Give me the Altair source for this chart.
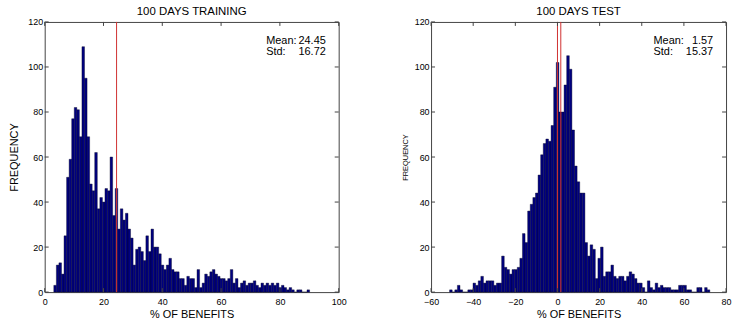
import altair as alt
import pandas as pd

# ---------------- data ----------------
train_title = "100 DAYS TRAINING"
test_title = "100 DAYS TEST"
x_label = "% OF BENEFITS"
y_label = "FREQUENCY"

train_min = 3.1
train_width = 0.87
train_counts = [
    3, 12, 13, 8, 25, 51, 59, 77, 82, 81,
    69, 109, 95, 69, 48, 45, 62, 37, 42, 40,
    46, 45, 60, 34, 46, 28, 37, 32, 35, 28,
    24, 12, 19, 20, 18, 14, 25, 18, 28, 20,
    20, 17, 12, 10, 12, 15, 10, 9, 9, 6,
    6, 3, 7, 6, 6, 2, 10, 2, 4, 8,
    7, 9, 10, 8, 7, 6, 6, 5, 6, 10,
    4, 6, 2, 4, 5, 3, 4, 4, 5, 3,
    2, 4, 3, 4, 3, 4, 3, 4, 2, 3,
    2, 1, 2, 1, 0, 1, 1, 0, 0, 1,
]
train_lines = [24.45]
train_stats = [24.45, 16.72]
train_xticks = [0, 20, 40, 60, 80, 100]

test_min = -51.2
test_width = 1.235
test_counts = [
    1, 0, 1, 3, 1, 0, 0, 1, 1, 4,
    3, 5, 7, 4, 5, 5, 5, 3, 4, 4,
    16, 11, 10, 8, 10, 10, 11, 15, 26, 22,
    36, 39, 42, 44, 52, 61, 66, 68, 67, 74,
    91, 102, 80, 80, 92, 105, 99, 72, 56, 49,
    44, 44, 22, 16, 21, 19, 6, 15, 20, 7,
    9, 9, 12, 7, 6, 7, 7, 5, 7, 9,
    8, 6, 4, 4, 2, 0, 5, 2, 1, 4,
    2, 3, 2, 2, 2, 1, 1, 1, 3, 3,
    3, 1, 1, 0, 0, 2, 2, 0, 2, 1,
]
test_lines = [0.0, 1.57]
test_stats = [1.57, 15.37]
test_xticks = [-60, -40, -20, 0, 20, 40, 60, 80]

yticks = [0, 20, 40, 60, 80, 100, 120]

FONT = "Liberation Sans"
H = 272
BAR_FILL = "#00007f"


def hist_df(start, width, counts):
    rows = []
    for i, c in enumerate(counts):
        rows.append({"x0": start + i * width, "x1": start + (i + 1) * width, "count": c})
    return pd.DataFrame(rows)


def panel(title, start, width, counts, lines, stats, xticks, W, ytitle_size, ytitle_pad):
    xdom = [xticks[0], xticks[-1]]
    xs = alt.Scale(domain=xdom, nice=False, zero=False)
    ys = alt.Scale(domain=[0, 120], nice=False)
    df = hist_df(start, width, counts)

    bars = alt.Chart(df).mark_bar(
        fill=BAR_FILL, stroke="#000022", strokeWidth=0.4, opacity=1
    ).encode(
        x=alt.X("x0:Q", scale=xs,
                axis=alt.Axis(values=xticks, ticks=False, domain=False, grid=False,
                              labelFont=FONT, labelFontSize=9, labelColor="black",
                              labelPadding=5, title=x_label, titleFont=FONT,
                              titleFontSize=11, titleFontWeight="normal",
                              titleColor="black", titlePadding=3, labelFlush=False)),
        x2="x1:Q",
        y=alt.Y("count:Q", scale=ys,
                axis=alt.Axis(values=yticks, ticks=False, domain=False, grid=False,
                              labelFont=FONT, labelFontSize=9, labelColor="black",
                              labelPadding=2, title=y_label, titleFont=FONT,
                              titleFontSize=ytitle_size, titleFontWeight="normal",
                              titleColor="black", titlePadding=ytitle_pad)),
        y2=alt.datum(0),
    )

    red = alt.Chart(pd.DataFrame({"v": lines})).mark_rule(
        color="#d03030", strokeWidth=1
    ).encode(x=alt.X("v:Q", scale=xs), y=alt.value(0), y2=alt.value(H))

    xt = pd.DataFrame({"t": xticks})
    yt = pd.DataFrame({"t": yticks})
    tick_style = dict(color="#444444", strokeWidth=1)
    tb = alt.Chart(xt).mark_rule(**tick_style).encode(
        x=alt.X("t:Q", scale=xs), y=alt.value(H), y2=alt.value(H - 4))
    tt = alt.Chart(xt).mark_rule(**tick_style).encode(
        x=alt.X("t:Q", scale=xs), y=alt.value(0), y2=alt.value(4))
    tl = alt.Chart(yt).mark_rule(**tick_style).encode(
        y=alt.Y("t:Q", scale=ys), x=alt.value(0), x2=alt.value(4))
    tr = alt.Chart(yt).mark_rule(**tick_style).encode(
        y=alt.Y("t:Q", scale=ys), x=alt.value(W), x2=alt.value(W - 4))

    txt_style = dict(font=FONT, fontSize=11, color="black", baseline="middle")
    t1 = alt.Chart().mark_text(align="left", **txt_style).encode(
        x=alt.value(W - 73), y=alt.value(19), text=alt.value("Mean:"))
    t2 = alt.Chart().mark_text(align="right", **txt_style).encode(
        x=alt.value(W - 13), y=alt.value(19), text=alt.value(f"{stats[0]:.2f}"))
    t3 = alt.Chart().mark_text(align="left", **txt_style).encode(
        x=alt.value(W - 73), y=alt.value(30), text=alt.value("Std:"))
    t4 = alt.Chart().mark_text(align="right", **txt_style).encode(
        x=alt.value(W - 13), y=alt.value(30), text=alt.value(f"{stats[1]:.2f}"))

    return alt.layer(bars, red, tb, tt, tl, tr, t1, t2, t3, t4).properties(
        width=W, height=H,
        title=alt.TitleParams(title, font=FONT, fontSize=11.5, fontWeight="normal",
                              color="black", offset=1, anchor="middle"),
    )


left = panel(train_title, train_min, train_width, train_counts, train_lines,
             train_stats, train_xticks, 296, 11, 8)
right = panel(test_title, test_min, test_width, test_counts, test_lines,
              test_stats, test_xticks, 297, 7.5, 5)

chart = alt.hconcat(left, right, spacing=53).properties(
    padding={"left": 8, "top": 4, "right": 0, "bottom": 0},
    background="white",
).configure_view(stroke="#444444", strokeWidth=1)

chart.save("out.html", embed_options={"renderer": "svg", "actions": False})
